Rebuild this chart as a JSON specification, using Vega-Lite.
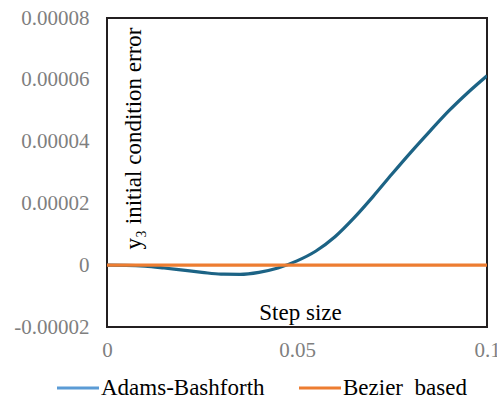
{
  "$schema": "https://vega.github.io/schema/vega-lite/v6.json",
  "autosize": "none",
  "width": 380,
  "height": 309,
  "padding": {"left": 107, "top": 18, "right": 10, "bottom": 76},
  "background": "white",
  "config": {
    "view": {"stroke": "#231F20", "strokeWidth": 2},
    "font": "Liberation Serif"
  },
  "data": {
    "values": [
      {"x": 0, "y": 0, "series": "Adams-Bashforth"},
      {"x": 0.005, "y": -0.00000005, "series": "Adams-Bashforth"},
      {"x": 0.01, "y": -0.0000003, "series": "Adams-Bashforth"},
      {"x": 0.015, "y": -0.0000009, "series": "Adams-Bashforth"},
      {"x": 0.02, "y": -0.0000016, "series": "Adams-Bashforth"},
      {"x": 0.025, "y": -0.0000023, "series": "Adams-Bashforth"},
      {"x": 0.03, "y": -0.0000029, "series": "Adams-Bashforth"},
      {"x": 0.035, "y": -0.00000295, "series": "Adams-Bashforth"},
      {"x": 0.04, "y": -0.0000023, "series": "Adams-Bashforth"},
      {"x": 0.045, "y": -0.0000009, "series": "Adams-Bashforth"},
      {"x": 0.05, "y": 0.0000014, "series": "Adams-Bashforth"},
      {"x": 0.055, "y": 0.0000046, "series": "Adams-Bashforth"},
      {"x": 0.06, "y": 0.0000092, "series": "Adams-Bashforth"},
      {"x": 0.065, "y": 0.0000153, "series": "Adams-Bashforth"},
      {"x": 0.07, "y": 0.0000222, "series": "Adams-Bashforth"},
      {"x": 0.075, "y": 0.0000295, "series": "Adams-Bashforth"},
      {"x": 0.08, "y": 0.0000366, "series": "Adams-Bashforth"},
      {"x": 0.085, "y": 0.0000434, "series": "Adams-Bashforth"},
      {"x": 0.09, "y": 0.00005, "series": "Adams-Bashforth"},
      {"x": 0.095, "y": 0.0000559, "series": "Adams-Bashforth"},
      {"x": 0.1, "y": 0.0000613, "series": "Adams-Bashforth"},
      {"x": 0, "y": 0, "series": "Bezier  based"},
      {"x": 0.05, "y": 0, "series": "Bezier  based"},
      {"x": 0.1, "y": 0, "series": "Bezier  based"}
    ]
  },
  "encoding": {
    "x": {
      "field": "x",
      "type": "quantitative",
      "scale": {"domain": [0, 0.1], "nice": false},
      "axis": {
        "values": [0, 0.05, 0.1],
        "format": ".2~f",
        "grid": false,
        "ticks": false,
        "domain": false,
        "labelFont": "Liberation Serif",
        "labelFontSize": 21,
        "labelColor": "#7F7F7F",
        "labelPadding": 12,
        "labelFlush": false,
        "title": "Step size",
        "titleFont": "Liberation Serif",
        "titleFontSize": 23,
        "titleFontWeight": "normal",
        "titleColor": "#000000",
        "titleX": 193,
        "titleY": -8,
        "titleAlign": "center",
        "titleBaseline": "alphabetic"
      }
    },
    "y": {
      "field": "y",
      "type": "quantitative",
      "scale": {"domain": [-0.00002, 0.00008], "nice": false},
      "axis": {
        "values": [-0.00002, 0, 0.00002, 0.00004, 0.00006, 0.00008],
        "labelExpr": "datum.value == 0 ? '0' : (datum.value < 0 ? '-' + format(-datum.value, '.5f') : format(datum.value, '.5f'))",
        "grid": false,
        "ticks": false,
        "domain": false,
        "labelFont": "Liberation Serif",
        "labelFontSize": 21,
        "labelColor": "#7F7F7F",
        "labelPadding": 18,
        "labelFlush": false,
        "title": "y₃ initial condition error",
        "titleFont": "Liberation Serif",
        "titleFontSize": 23,
        "titleFontWeight": "normal",
        "titleColor": "#000000",
        "titleAngle": 270,
        "titleX": 33,
        "titleY": 120,
        "titleAlign": "center",
        "titleBaseline": "alphabetic"
      }
    }
  },
  "layer": [
    {
      "mark": {"type": "line", "opacity": 0, "strokeWidth": 3.2},
      "encoding": {
        "color": {
          "field": "series",
          "type": "nominal",
          "scale": {"domain": ["Adams-Bashforth", "Bezier  based"], "range": ["#5B9BD5", "#ED7D31"]},
          "legend": {
            "title": null,
            "orient": "none",
            "direction": "horizontal",
            "legendX": -52,
            "legendY": 347,
            "symbolType": "stroke",
            "symbolSize": 1764,
            "symbolStrokeWidth": 3.2,
            "symbolOpacity": 1,
            "labelFont": "Liberation Serif",
            "labelFontSize": 23,
            "labelColor": "#000000",
            "labelOffset": 0,
            "columnPadding": 27,
            "labelLimit": 300,
            "labelExpr": "datum.label == 'Bezier  based' ? 'Bezier\u00a0 based' : datum.label"
          }
        }
      }
    },
    {
      "mark": {"type": "line", "strokeWidth": 3.2, "interpolate": "monotone", "clip": true},
      "encoding": {
        "stroke": {
          "field": "series",
          "type": "nominal",
          "scale": {"domain": ["Adams-Bashforth", "Bezier  based"], "range": ["#1C6385", "#ED7D31"]},
          "legend": null
        }
      }
    }
  ]
}
